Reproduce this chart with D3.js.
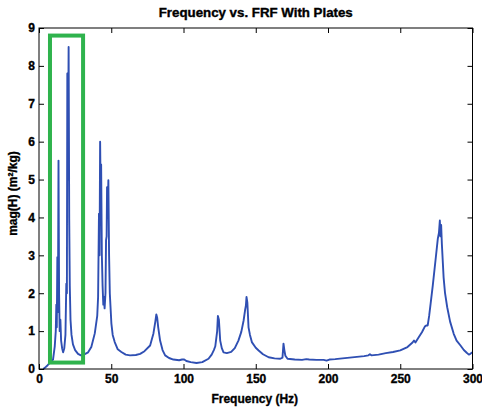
<!DOCTYPE html>
<html><head><meta charset="utf-8">
<script src="https://cdn.jsdelivr.net/npm/d3@7"></script>
<style>body{margin:0;background:#fff}svg{display:block}text{font-family:"Liberation Sans",Arial,sans-serif;font-weight:bold;stroke:#000;stroke-width:0.35px}</style>
</head><body><svg id="c" width="482" height="409"></svg>
<script>
const title = "Frequency vs. FRF With Plates";
const xLabel = "Frequency (Hz)";
const yLabel = "mag(H) (m\u00B2/kg)";
const xTicks = [0,50,100,150,200,250,300];
const yTicks = [0,1,2,3,4,5,6,7,8,9];
const freq = [3,4,6,8,9.7,10.9,11.6,12.0,12.3,12.7,13.1,13.5,13.9,14.3,14.8,15.3,16.0,16.7,17.5,18.3,18.9,19.3,19.6,20.0,20.5,20.9,21.3,21.8,22.5,23.5,25,27,29,31,33,34,36.2,38.6,40.3,40.9,41.5,41.9,42.3,42.7,43.0,43.5,44.0,44.5,44.9,45.4,46.0,46.4,46.8,47.1,47.5,48.0,48.5,49.0,50.1,51,52.4,54.5,57,60,63,67,70,73,76.9,79.2,80.5,81.2,81.8,82.5,83.8,85.5,87.3,90,93,97,99,100.5,102,105,109,113,117.3,119.5,121,122,123.3,123.8,124.5,125.4,126.5,127.7,130,133,135.5,138,140,141.6,142.6,143.2,143.6,144.2,145,146,147.3,150,152,155,158.9,163,167,168.5,169.2,169.8,170.5,172,177,182,185,187,192,197,199,201,205,210,215,220,225,228,229,230,235,240,245,250,255,258.5,259.5,260.5,263,265,267,268,269,270,271,272.5,274.4,276,276.8,277.4,277.8,278.3,278.8,280,281,282.5,284.5,287,289,291.7,294,296,297.5,298.5,300];
const mag = [0,0.03,0.1,0.18,0.25,0.6,1.0,1.7,1.1,2.95,1.5,5.5,2.0,1.0,1.3,0.75,0.55,0.44,0.55,0.9,2.25,2.0,7.8,5.0,8.5,4.0,2.2,1.3,0.9,0.65,0.5,0.4,0.36,0.38,0.42,0.44,0.58,0.94,1.4,1.9,4.1,3.0,6.0,4.5,5.4,3.0,2.2,1.7,1.9,1.6,2.0,3.4,3.5,4.8,4.0,4.98,3.0,2.0,1.2,0.9,0.71,0.52,0.45,0.38,0.36,0.37,0.4,0.47,0.62,0.94,1.25,1.44,1.35,1.1,0.75,0.5,0.36,0.29,0.25,0.23,0.25,0.25,0.21,0.18,0.16,0.18,0.27,0.38,0.5,0.6,1.0,1.4,1.3,0.75,0.55,0.44,0.42,0.45,0.55,0.75,0.98,1.28,1.55,1.68,1.9,1.75,1.1,0.9,0.71,0.56,0.49,0.39,0.31,0.28,0.27,0.3,0.67,0.5,0.35,0.27,0.25,0.24,0.26,0.25,0.24,0.24,0.22,0.25,0.26,0.28,0.3,0.32,0.34,0.36,0.39,0.36,0.38,0.42,0.45,0.49,0.58,0.7,0.75,0.7,0.85,0.97,1.12,1.15,1.15,1.4,1.72,2.2,2.87,3.44,3.6,3.92,3.5,3.8,3.3,2.42,2.0,1.63,1.25,0.93,0.75,0.62,0.5,0.43,0.38,0.4,0.44];
const highlightX = [7.6, 30.5];
const highlightY = [0.17, 8.8];

const svg = d3.select("#c");
const L = 39, R = 472.5, T = 28, B = 369;
const x = d3.scaleLinear().domain([0,300]).range([L,R]);
const y = d3.scaleLinear().domain([0,9]).range([B,T]);

svg.append("rect").attr("width",482).attr("height",409).attr("fill","#fff");

const line = d3.line().x((d,i)=>x(freq[i])).y((d,i)=>y(mag[i]));
svg.append("path").datum(mag).attr("d",line).attr("fill","none")
  .attr("stroke","#2f4fb3").attr("stroke-width",1.9).attr("stroke-linejoin","round");

svg.append("rect")
  .attr("x",x(highlightX[0])).attr("y",y(highlightY[1]))
  .attr("width",x(highlightX[1])-x(highlightX[0]))
  .attr("height",y(highlightY[0])-y(highlightY[1]))
  .attr("fill","none").attr("stroke","#2fb34d").attr("stroke-width",4);

const fs = "12px";
const gx = svg.append("g").attr("transform",`translate(0,${B})`)
  .call(d3.axisBottom(x).tickValues(xTicks).tickSizeInner(-5).tickSizeOuter(0).tickPadding(5));
const gy = svg.append("g").attr("transform",`translate(${L},0)`)
  .call(d3.axisLeft(y).tickValues(yTicks).tickSizeInner(-5).tickSizeOuter(0).tickPadding(4));
const gt = svg.append("g").attr("transform",`translate(0,${T})`)
  .call(d3.axisTop(x).tickValues(xTicks).tickSizeInner(-5).tickSizeOuter(0).tickFormat(""));
const gr = svg.append("g").attr("transform",`translate(${R},0)`)
  .call(d3.axisRight(y).tickValues(yTicks).tickSizeInner(-5).tickSizeOuter(0).tickFormat(""));
[gx,gy,gt,gr].forEach(g=>{
  g.selectAll(".domain").remove();
  g.selectAll("line").attr("stroke","#000");
  g.selectAll("text").attr("fill","#000").style("font-size",fs).style("font-weight","bold")
   .style("font-family",'"Liberation Sans",Arial,sans-serif');
});
svg.append("rect").attr("x",L).attr("y",T).attr("width",R-L).attr("height",B-T)
  .attr("fill","none").attr("stroke","#000").attr("stroke-width",1);

svg.append("text").attr("x",(L+R)/2).attr("y",17).attr("text-anchor","middle")
  .style("font-size","12px").attr("textLength",194).attr("lengthAdjust","spacingAndGlyphs").text(title);
svg.append("text").attr("x",(L+R)/2 - 1).attr("y",403).attr("text-anchor","middle")
  .style("font-size","12px").text(xLabel);
svg.append("text").attr("transform",`translate(17,${(T+B)/2 - 5}) rotate(-90)`).attr("text-anchor","middle")
  .style("font-size","12px").text(yLabel);
</script></body></html>
